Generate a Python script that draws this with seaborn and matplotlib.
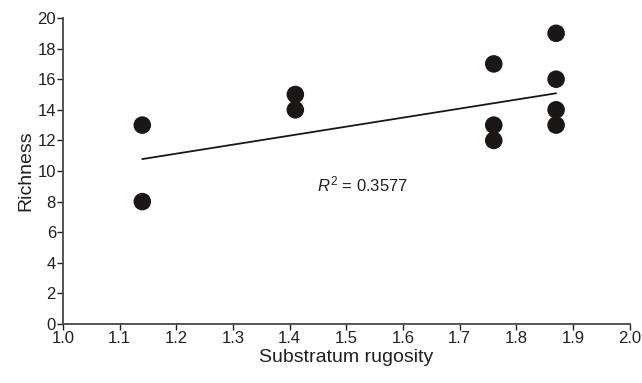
import matplotlib
matplotlib.use("Agg")
import matplotlib.pyplot as plt
import seaborn as sns
import pandas as pd

# data
rugosity = [1.14, 1.14, 1.41, 1.41, 1.76, 1.76, 1.76, 1.87, 1.87, 1.87, 1.87]
richness = [13, 8, 15, 14, 17, 13, 12, 19, 16, 14, 13]
trend_x = [1.14, 1.87]
trend_y = [10.78, 15.08]
r2_label = "0.3577"
x_ticks = [1.0, 1.1, 1.2, 1.3, 1.4, 1.5, 1.6, 1.7, 1.8, 1.9, 2.0]
y_ticks = [0, 2, 4, 6, 8, 10, 12, 14, 16, 18, 20]

sns.set_style("ticks")
plt.rcParams["font.family"] = ["Liberation Sans Narrow", "Liberation Sans", "DejaVu Sans"]
plt.rcParams["mathtext.fontset"] = "custom"
plt.rcParams["mathtext.it"] = "Liberation Sans:italic"
plt.rcParams["mathtext.rm"] = "Liberation Sans"

df = pd.DataFrame({"rugosity": rugosity, "richness": richness})

fig = plt.figure(figsize=(6.42, 3.83), dpi=100)
ax = fig.add_axes([0.098, 0.154, 0.883, 0.799])

sns.scatterplot(data=df, x="rugosity", y="richness", ax=ax, s=160,
                color="#1a1716", edgecolor="none", zorder=3)
sns.lineplot(x=trend_x, y=trend_y, ax=ax, color="#1a1716", linewidth=1.3)

ax.text(1.448, 8.7, "$R^2$ = " + r2_label, fontsize=12, color="#231f20")

ax.set_xlim(1.0, 2.0)
ax.set_ylim(0, 20)
ax.set_xticks(x_ticks)
ax.set_xticklabels([f"{v:.1f}" for v in x_ticks])
ax.set_yticks(y_ticks)
ax.tick_params(labelsize=12, colors="#231f20", length=4, width=1, pad=1)
ax.set_xlabel("Substratum rugosity", fontsize=14, color="#231f20", labelpad=2)
ax.set_ylabel("Richness", fontsize=14, color="#231f20", labelpad=2)
sns.despine(ax=ax)
for side in ["left", "bottom"]:
    ax.spines[side].set_color("#4a4546")
    ax.spines[side].set_linewidth(1.3)

fig.savefig("out.png", dpi=100)
